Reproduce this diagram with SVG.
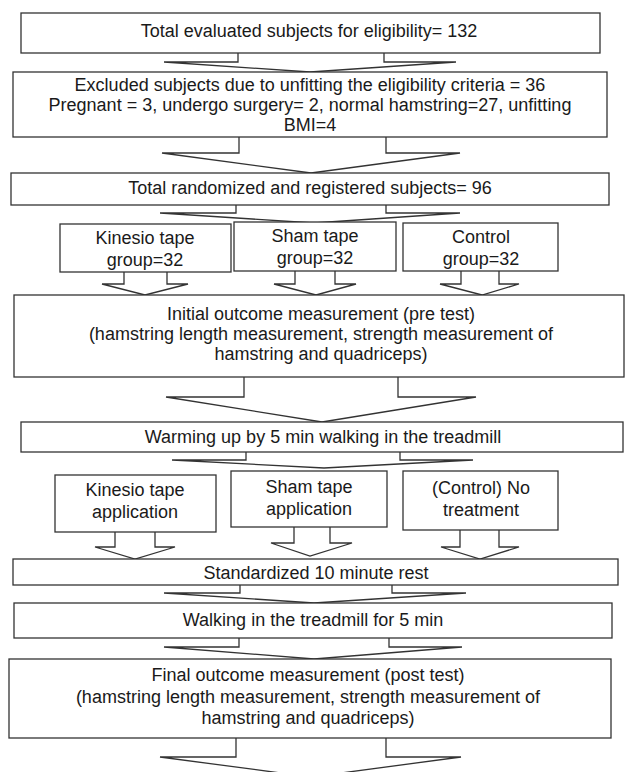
<svg xmlns="http://www.w3.org/2000/svg" width="626" height="772" viewBox="0 0 626 772">
<style>
.b{fill:#fff;stroke:#333;stroke-width:1.3}
.a{fill:#fff;stroke:#333;stroke-width:1.3;stroke-linejoin:miter}
text{font-family:"Liberation Sans",Arial,sans-serif;font-size:18px;fill:#1a1a1a;text-anchor:middle}
</style>
<rect width="626" height="772" fill="#fff"/>
<g id="connectors">
<polyline class="a" points="238,53 238,62 164,62 310,72 456,62 384,62 384,53"/>
<polyline class="a" points="239,137 239,153 162,153 311,173 460,153 386,153 386,137"/>
<polyline class="a" points="236,205 236,213 160,213 314,223 460,213 386,213 386,205"/>
<polyline class="a" points="124,272 124,284 102,284 145,295 188,284 167,284 167,272"/>
<polyline class="a" points="295,271 295,284 274,284 316,295 356,284 335,284 335,271"/>
<polyline class="a" points="461,271 461,284 440,284 482,295 519,284 499,284 499,271"/>
<polyline class="a" points="244,377 244,397 166,397 322,422 476,397 398,397 398,377"/>
<polyline class="a" points="246,452 246,460 172,460 324,468 473,460 400,460 400,452"/>
<polyline class="a" points="115,532 115,547 95,547 135,559 175,547 155,547 155,532"/>
<polyline class="a" points="294,527 294,543 271,543 310,556 352,543 330,543 330,527"/>
<polyline class="a" points="460,530 460,547 441,547 480,559 519,547 499,547 499,530"/>
<polyline class="a" points="240,585 240,593 164,593 314,603 466,593 392,593 392,585"/>
<polyline class="a" points="239,638 239,647 164,647 314,659 462,647 389,647 389,638"/>
<polyline class="a" points="236,738 236,757 160,757 311,777 461,757 386,757 386,738"/>
</g>
<g id="n1"><rect class="b" x="21" y="13" width="579" height="40"/><text x="309" y="37">Total evaluated subjects for eligibility= 132</text></g>
<g id="n2"><rect class="b" x="13" y="72" width="594" height="65"/><text x="310" y="91">Excluded subjects due to unfitting the eligibility criteria = 36</text><text x="310" y="111">Pregnant = 3, undergo surgery= 2, normal hamstring=27, unfitting</text><text x="310" y="131">BMI=4</text></g>
<g id="n3"><rect class="b" x="11" y="173" width="598" height="32"/><text x="310" y="194">Total randomized and registered subjects= 96</text></g>
<g id="n4"><rect class="b" x="60" y="224" width="171" height="48"/><text x="145" y="244">Kinesio tape</text><text x="145" y="266">group=32</text></g>
<g id="n5"><rect class="b" x="234" y="222" width="162" height="49"/><text x="315" y="242">Sham tape</text><text x="315" y="264">group=32</text></g>
<g id="n6"><rect class="b" x="403" y="223" width="155" height="48"/><text x="481" y="243">Control</text><text x="481" y="265">group=32</text></g>
<g id="n7"><rect class="b" x="14" y="295" width="610" height="82"/><text x="321" y="320">Initial outcome measurement (pre test)</text><text x="321" y="340">(hamstring length measurement, strength measurement of</text><text x="321" y="360">hamstring and quadriceps)</text></g>
<g id="n8"><rect class="b" x="21" y="422" width="602" height="30"/><text x="323" y="443">Warming up by 5 min walking in the treadmill</text></g>
<g id="n9"><rect class="b" x="55" y="475" width="161" height="57"/><text x="135" y="496">Kinesio tape</text><text x="135" y="518">application</text></g>
<g id="n10"><rect class="b" x="231" y="471" width="156" height="56"/><text x="309" y="493">Sham tape</text><text x="309" y="515">application</text></g>
<g id="n11"><rect class="b" x="403" y="471" width="155" height="59"/><text x="481" y="494">(Control) No</text><text x="481" y="516">treatment</text></g>
<g id="n12"><rect class="b" x="13" y="559" width="605" height="26"/><text x="316" y="579">Standardized 10 minute rest</text></g>
<g id="n13"><rect class="b" x="14" y="603" width="598" height="35"/><text x="313" y="626">Walking in the treadmill for 5 min</text></g>
<g id="n14"><rect class="b" x="9" y="659" width="602" height="79"/><text x="308" y="681">Final outcome measurement (post test)</text><text x="308" y="703">(hamstring length measurement, strength measurement of</text><text x="308" y="724">hamstring and quadriceps)</text></g>
</svg>
